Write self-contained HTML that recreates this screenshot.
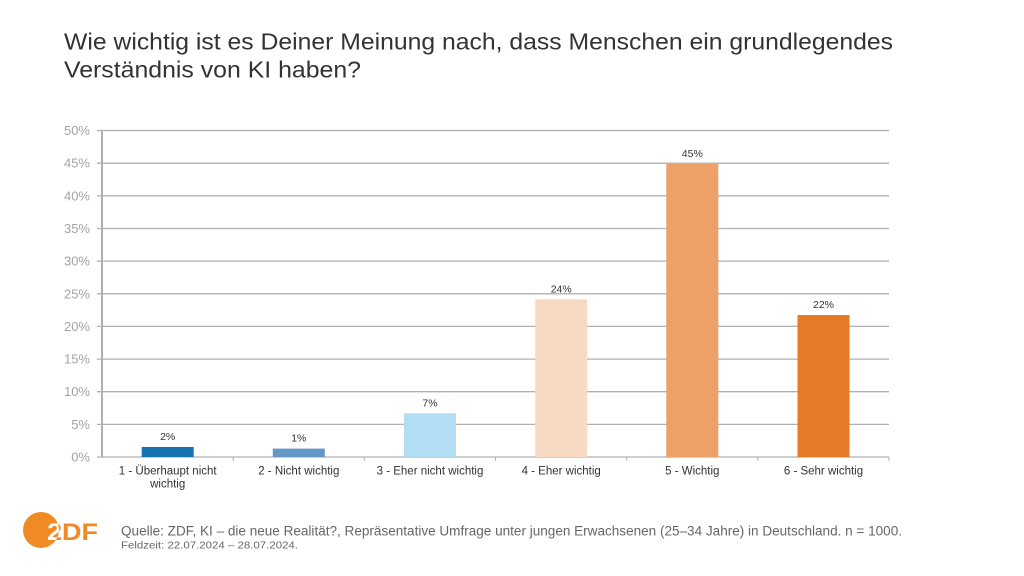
<!DOCTYPE html>
<html><head><meta charset="utf-8"><style>
html,body{margin:0;padding:0;background:#fff;}
svg{display:block;}
text{font-family:"Liberation Sans",Arial,sans-serif;}
</style></head><body>
<svg width="1024" height="576" viewBox="0 0 1024 576" xmlns="http://www.w3.org/2000/svg">
<defs><clipPath id="c"><circle cx="41" cy="530" r="18"/></clipPath></defs>
<rect width="1024" height="576" fill="#fff"/>
<!-- Title -->
<text x="64" y="49.5" font-size="23.5" fill="#333" textLength="829" lengthAdjust="spacingAndGlyphs">Wie wichtig ist es Deiner Meinung nach, dass Menschen ein grundlegendes</text>
<text x="64" y="77.5" font-size="23.5" fill="#333" textLength="297" lengthAdjust="spacingAndGlyphs">Verständnis von KI haben?</text>

<!-- gridlines -->
<g stroke="#b0b0b0" stroke-width="1.3">
<line x1="97" y1="130.5" x2="889" y2="130.5"/>
<line x1="97" y1="163.2" x2="889" y2="163.2"/>
<line x1="97" y1="195.8" x2="889" y2="195.8"/>
<line x1="97" y1="228.5" x2="889" y2="228.5"/>
<line x1="97" y1="261.1" x2="889" y2="261.1"/>
<line x1="97" y1="293.8" x2="889" y2="293.8"/>
<line x1="97" y1="326.4" x2="889" y2="326.4"/>
<line x1="97" y1="359.1" x2="889" y2="359.1"/>
<line x1="97" y1="391.7" x2="889" y2="391.7"/>
<line x1="97" y1="424.4" x2="889" y2="424.4"/>
<line x1="97" y1="457" x2="889" y2="457"/>
</g>
<line x1="102" y1="130" x2="102" y2="457.5" stroke="#b0b0b0" stroke-width="2"/>
<!-- x ticks -->
<g stroke="#b0b0b0" stroke-width="1">
<line x1="233.2" y1="457" x2="233.2" y2="461"/>
<line x1="364.3" y1="457" x2="364.3" y2="461"/>
<line x1="495.5" y1="457" x2="495.5" y2="461"/>
<line x1="626.7" y1="457" x2="626.7" y2="461"/>
<line x1="757.8" y1="457" x2="757.8" y2="461"/>
<line x1="889" y1="457" x2="889" y2="461"/>
</g>

<!-- y labels -->
<g font-size="13" fill="#a3a3a3" text-anchor="end">
<text x="90" y="135">50%</text>
<text x="90" y="167.7">45%</text>
<text x="90" y="200.3">40%</text>
<text x="90" y="233">35%</text>
<text x="90" y="265.6">30%</text>
<text x="90" y="298.3">25%</text>
<text x="90" y="330.9">20%</text>
<text x="90" y="363.6">15%</text>
<text x="90" y="396.2">10%</text>
<text x="90" y="428.9">5%</text>
<text x="90" y="461.5">0%</text>
</g>

<!-- bars -->
<rect x="141.7" y="447" width="52" height="10" fill="#1874ae"/>
<rect x="272.8" y="448.6" width="52" height="8.4" fill="#6597c6"/>
<rect x="404" y="413.3" width="52" height="43.7" fill="#b2ddf5"/>
<rect x="535.2" y="299.3" width="52" height="157.7" fill="#f8dac4"/>
<rect x="666.3" y="164" width="52" height="293" fill="#eea167"/>
<rect x="797.5" y="315" width="52" height="142" fill="#e57a27"/>

<!-- value labels -->
<g font-size="10.5" fill="#333" text-anchor="middle">
<text x="167.7" y="440">2%</text>
<text x="298.8" y="441.6">1%</text>
<text x="430" y="406.3">7%</text>
<text x="561.2" y="292.3">24%</text>
<text x="692.3" y="157">45%</text>
<text x="823.5" y="308">22%</text>
</g>

<!-- category labels -->
<g font-size="11.5" fill="#333" text-anchor="middle">
<text x="167.7" y="474.5">1 - Überhaupt nicht</text>
<text x="167.7" y="487.5">wichtig</text>
<text x="298.8" y="474.5">2 - Nicht wichtig</text>
<text x="430" y="474.5">3 - Eher nicht wichtig</text>
<text x="561.2" y="474.5">4 - Eher wichtig</text>
<text x="692.3" y="474.5">5 - Wichtig</text>
<text x="823.5" y="474.5">6 - Sehr wichtig</text>
</g>

<!-- ZDF logo -->
<circle cx="41" cy="530" r="18" fill="#f08a24"/>
<text x="47" y="540" font-size="24" font-weight="bold" fill="#f08a24" textLength="51" lengthAdjust="spacingAndGlyphs">2DF</text>
<text x="47" y="540" font-size="24" font-weight="bold" fill="#fff" textLength="51" lengthAdjust="spacingAndGlyphs" clip-path="url(#c)">2DF</text>

<!-- source -->
<text x="121" y="535.5" font-size="13.5" fill="#666" textLength="781" lengthAdjust="spacingAndGlyphs">Quelle: ZDF, KI – die neue Realität?, Repräsentative Umfrage unter jungen Erwachsenen (25–34 Jahre) in Deutschland. n = 1000.</text>
<text x="121" y="548.5" font-size="10" fill="#666" textLength="177" lengthAdjust="spacingAndGlyphs">Feldzeit: 22.07.2024 – 28.07.2024.</text>
</svg>
</body></html>
